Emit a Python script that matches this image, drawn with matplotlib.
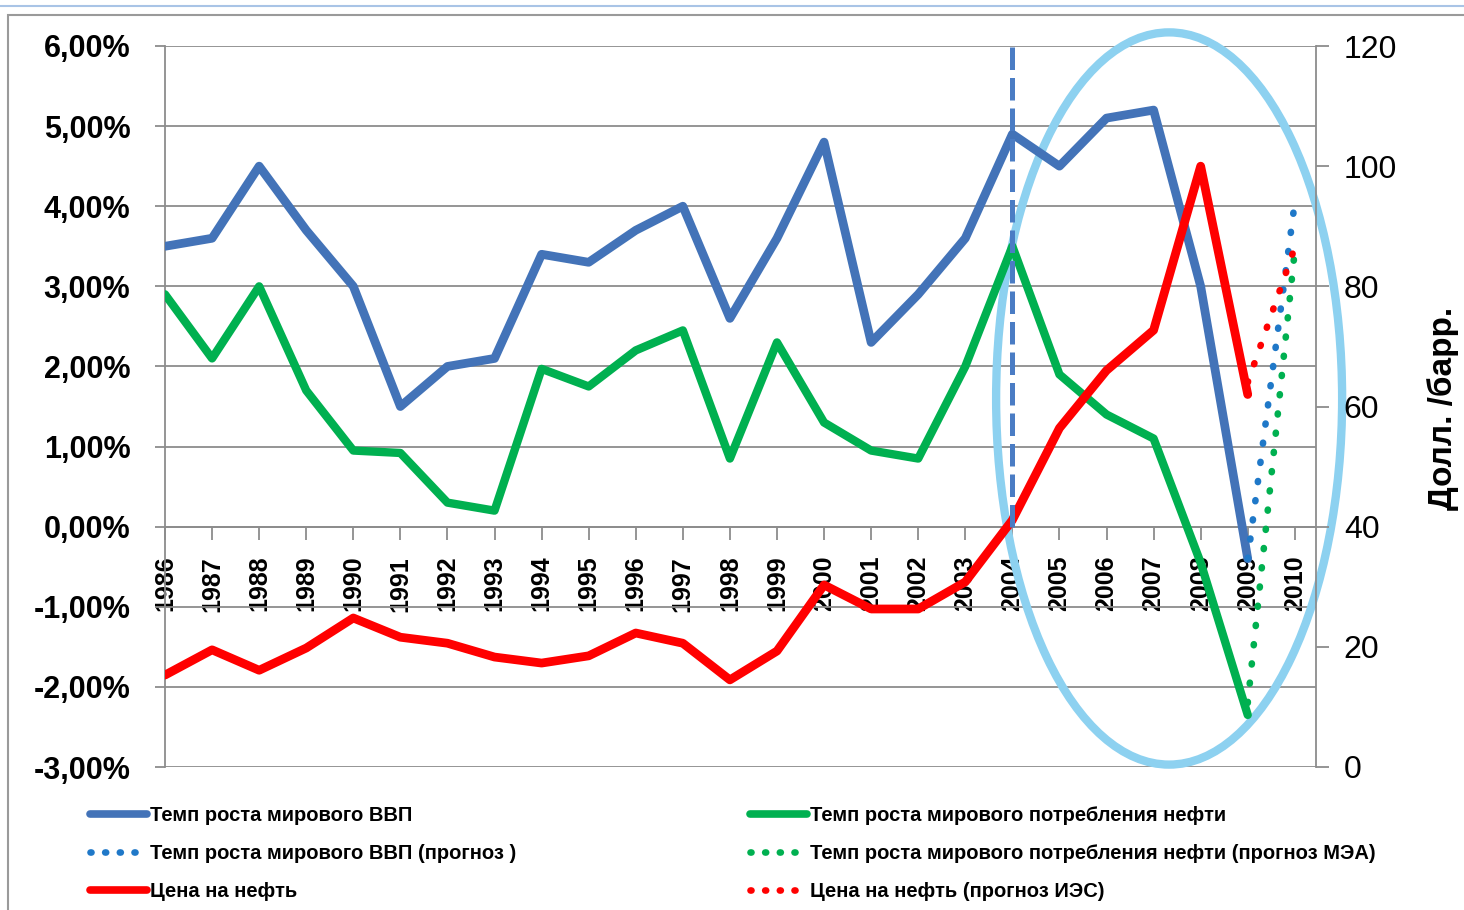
import numpy as np
import matplotlib.pyplot as plt
from matplotlib.patches import Ellipse, Rectangle
from matplotlib.lines import Line2D

plt.rcParams['font.family'] = ['Liberation Sans', 'DejaVu Sans']

# Годы и ряды (оценка по картинке)
years = [str(y) for y in range(1986, 2011)]
gdp = [3.5, 3.6, 4.5, 3.7, 3.0, 1.5, 2.0, 2.1, 3.4, 3.3, 3.7, 4.0, 2.6, 3.6,
       4.8, 2.3, 2.9, 3.6, 4.9, 4.5, 5.1, 5.2, 3.0, -0.4]
oil_use = [2.9, 2.1, 3.0, 1.7, 0.95, 0.92, 0.3, 0.2, 1.97, 1.75, 2.2, 2.45, 0.85, 2.3,
           1.3, 0.95, 0.85, 2.0, 3.5, 1.9, 1.4, 1.1, -0.45, -2.35]
oil_price = [15.3, 19.5, 16.1, 19.8, 24.8, 21.6, 20.6, 18.3, 17.3, 18.5, 22.3, 20.6, 14.5, 19.3,
             30.3, 26.3, 26.3, 30.8, 41.1, 56.4, 66.0, 72.7, 100.0, 62.0]

# прогнозы 2009 -> 2010
fc_years = ["2009", "2010"]
gdp_fc = [-0.4, 4.05]
oil_use_fc = [-2.2, 3.45]
oil_price_fc = [64.0, 86.5]

labels = ["Темп роста мирового ВВП",
          "Темп роста мирового ВВП (прогноз )",
          "Цена на нефть",
          "Темп роста мирового потребления нефти",
          "Темп роста мирового потребления нефти (прогноз МЭА)",
          "Цена на нефть (прогноз ИЭС)"]

BLUE = "#4373B8"
GREEN = "#00B050"
RED = "#FF0000"
BLUE_DOT = "#1F78C8"
GRID = "#8c8c8c"

x = np.arange(len(gdp))
x_fc = np.array([years.index(y) for y in fc_years])

fig = plt.figure(figsize=(14.64, 9.10), dpi=100)
ax = fig.add_axes([165 / 1464, 1 - 767 / 910, (1316 - 165) / 1464, (767 - 46) / 910])
ax2 = ax.twinx()

# позиция оси X до настройки подписей (set_position сбрасывает тики)
ax.spines["bottom"].set_position(("data", 0))

ax.set_xlim(0, 24.45)
ax.set_ylim(-3, 6)
ax2.set_ylim(0, 120)

line_kw = dict(solid_capstyle="round", solid_joinstyle="round")
dot_kw = dict(linestyle=(0, (0.15, 2.75)), dash_capstyle="round", lw=4.8)

# эллипс и вертикальная линия 2004
ell = Ellipse((21.33, 1.6), 7.35, 9.14, fill=False, ec="#8DD1F0", lw=6, clip_on=False, zorder=1)
ax.add_patch(ell)

ax.plot(x, gdp, color=BLUE, lw=6.3, zorder=3, **line_kw)
ax.plot(x, oil_use, color=GREEN, lw=6.0, zorder=3, **line_kw)
ax.plot(x_fc, gdp_fc, color=BLUE_DOT, zorder=4, **dot_kw)
ax.plot(x_fc, oil_use_fc, color=GREEN, zorder=4, **dot_kw)

ax2.plot(x, oil_price, color=RED, lw=6.3, zorder=3, **line_kw)
ax2.plot(x_fc, oil_price_fc, color=RED, zorder=4, **dot_kw)
ax2.plot([years.index("2004")] * 2, [40, 120], color="#4A7CC4", lw=3.6,
         linestyle=(0, (4.5, 1.6)), zorder=5)

# оси
ax.set_yticks(range(-3, 7))
ax.set_yticklabels([f"{v:.2f}%".replace(".", ",") for v in range(-3, 7)],
                   fontsize=22, fontweight="bold")
ax.yaxis.grid(True, color=GRID, lw=1.3)
ax.set_axisbelow(True)
ax.set_xticks(x.tolist() + [24])
ax.set_xticklabels(years, rotation=90, fontsize=18, fontweight="bold")
ax.spines["top"].set_visible(False)
ax.spines["right"].set_visible(False)
for s in ["left", "bottom"]:
    ax.spines[s].set_color(GRID)
    ax.spines[s].set_linewidth(1.3)
ax.tick_params(axis="x", direction="out", length=9, width=1.3, color=GRID, pad=12)
ax.tick_params(axis="y", direction="out", length=7, width=1.3, color=GRID, pad=18)

ax2.set_yticks(range(0, 121, 20))
ax2.set_yticklabels([str(v) for v in range(0, 121, 20)], fontsize=23)
for s in ["left", "bottom", "top"]:
    ax2.spines[s].set_visible(False)
ax2.spines["right"].set_color(GRID)
ax2.spines["right"].set_linewidth(1.3)
ax2.tick_params(axis="y", direction="out", length=9, width=1.3, color=GRID, pad=11)

fig.text(1443 / 1464, 1 - 408 / 910, "Долл. /барр.", rotation=90, ha="center", va="center",
         fontsize=24, fontweight="bold")

# легенда
h_solid = dict(lw=5.5, solid_capstyle="round")
h_dot = dict(linestyle=(0, (0.15, 2.05)), dash_capstyle="round", lw=4.8)
left_handles = [Line2D([], [], color=BLUE, **h_solid),
                Line2D([], [], color=BLUE_DOT, **h_dot),
                Line2D([], [], color=RED, **h_solid)]
right_handles = [Line2D([], [], color=GREEN, **h_solid),
                 Line2D([], [], color=GREEN, **h_dot),
                 Line2D([], [], color=RED, **h_dot)]
leg_kw = dict(loc="upper left", frameon=False, borderpad=0, borderaxespad=0,
              handlelength=2.85, handletextpad=0.12, labelspacing=0.95,
              prop=dict(size=14.5, weight="bold"))
fig.legend(left_handles, labels[:3], bbox_to_anchor=(90 / 1464, 1 - 806 / 910), **leg_kw)
fig.legend(right_handles, labels[3:], bbox_to_anchor=(750 / 1464, 1 - 806 / 910), **leg_kw)

# рамка скриншота
fig.add_artist(Rectangle((8 / 1464, -0.1), 2, 1 - 15 / 910 + 0.1, transform=fig.transFigure,
                         fill=False, ec="#9a9a9a", lw=1.5))
fig.add_artist(Line2D([0, 1], [1 - 6 / 910] * 2, transform=fig.transFigure,
                      color="#a9c4e6", lw=1.5))

fig.savefig("out.png", dpi=100)
